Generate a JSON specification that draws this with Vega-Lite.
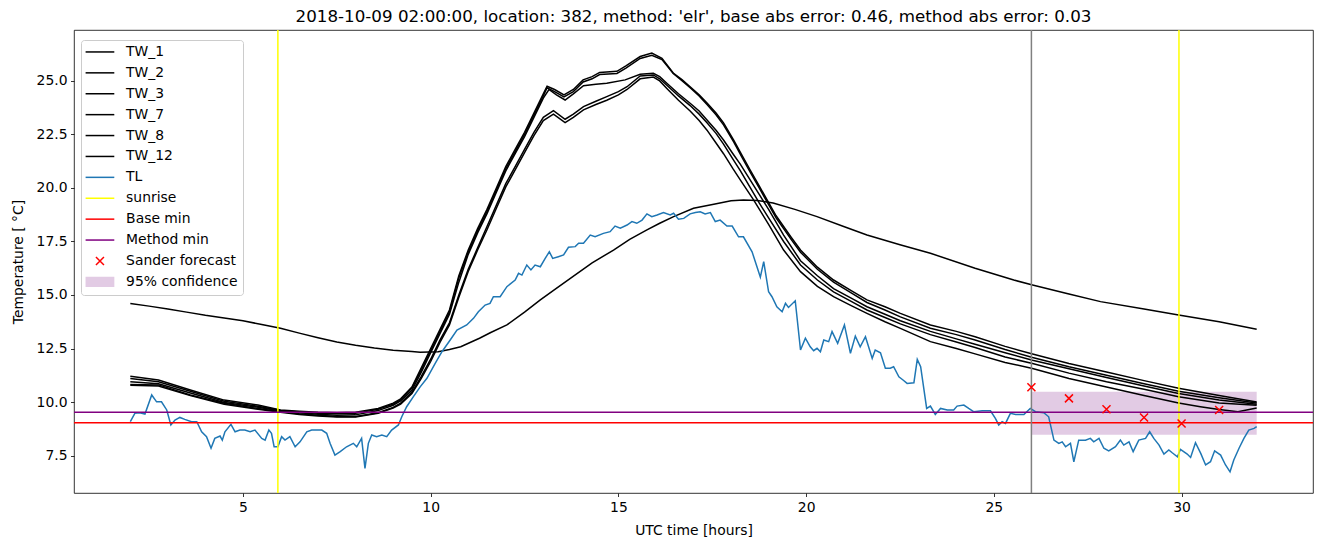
{
"$schema": "https://vega.github.io/schema/vega-lite/v6.json",
"width": 1239, "height": 463,
"autosize": "none",
"padding": {"left": 74, "top": 30, "right": 11, "bottom": 54},
"background": "white",
"title": {"text": "2018-10-09 02:00:00, location: 382, method: 'elr', base abs error: 0.46, method abs error: 0.03", "font": "DejaVu Sans", "fontSize": 16.7, "fontWeight": "normal", "color": "black", "anchor": "middle", "offset": 4},
"config": {
  "view": {"stroke": "black", "strokeWidth": 0.8},
  "font": "DejaVu Sans",
  "axis": {"domain": false, "grid": false, "tickColor": "black", "tickSize": 3.5, "tickWidth": 0.8, "labelFont": "DejaVu Sans", "labelFontSize": 13.9, "labelColor": "black", "labelPadding": 3.5, "titleFont": "DejaVu Sans", "titleFontSize": 13.9, "titleColor": "black", "titleFontWeight": "normal", "labelFlush": false, "labelOverlap": false},
  "axisX": {"titlePadding": 10},
  "axisY": {"titlePadding": 11}
},
"datasets": {
  "conf": [{"series": "95% confidence", "x": 26.0, "x2": 32.0, "y": 8.47, "y2": 10.48}],
  "vr": [{"series": "sunrise", "x": 5.93}, {"series": "sunrise", "x": 29.93}],
  "gray": [{"x": 26.0}],
  "hr": [{"series": "Base min", "y": 9.03}, {"series": "Method min", "y": 9.52}],
  "sander": [{"series": "Sander forecast", "x": 26, "y": 10.69}, {"series": "Sander forecast", "x": 27, "y": 10.17}, {"series": "Sander forecast", "x": 28, "y": 9.66}, {"series": "Sander forecast", "x": 29, "y": 9.28}, {"series": "Sander forecast", "x": 30, "y": 9.0}, {"series": "Sander forecast", "x": 31, "y": 9.63}],
  "lines": [
{"series":"TW_1","x":2,"y":11.2},{"series":"TW_1","x":2.75,"y":11.03},{"series":"TW_1","x":3.6,"y":10.56},{"series":"TW_1","x":4.5,"y":10.09},{"series":"TW_1","x":5.4,"y":9.86},{"series":"TW_1","x":6,"y":9.63},{"series":"TW_1","x":6.5,"y":9.57},{"series":"TW_1","x":7,"y":9.52},{"series":"TW_1","x":7.5,"y":9.5},{"series":"TW_1","x":8,"y":9.52},{"series":"TW_1","x":8.6,"y":9.7},{"series":"TW_1","x":9,"y":9.95},{"series":"TW_1","x":9.2,"y":10.15},{"series":"TW_1","x":9.5,"y":10.7},{"series":"TW_1","x":9.75,"y":11.6},{"series":"TW_1","x":10,"y":12.5},{"series":"TW_1","x":10.25,"y":13.4},{"series":"TW_1","x":10.5,"y":14.3},{"series":"TW_1","x":10.75,"y":15.9},{"series":"TW_1","x":11,"y":17.1},{"series":"TW_1","x":11.25,"y":18.1},{"series":"TW_1","x":11.5,"y":19.0},{"series":"TW_1","x":11.75,"y":20.0},{"series":"TW_1","x":12,"y":21.0},{"series":"TW_1","x":12.25,"y":21.8},{"series":"TW_1","x":12.5,"y":22.6},{"series":"TW_1","x":12.75,"y":23.5},{"series":"TW_1","x":13,"y":24.4},{"series":"TW_1","x":13.1,"y":24.75},{"series":"TW_1","x":13.3,"y":24.6},{"series":"TW_1","x":13.55,"y":24.35},{"series":"TW_1","x":13.8,"y":24.6},{"series":"TW_1","x":14.06,"y":25.05},{"series":"TW_1","x":14.3,"y":25.2},{"series":"TW_1","x":14.5,"y":25.4},{"series":"TW_1","x":14.96,"y":25.45},{"series":"TW_1","x":15.2,"y":25.7},{"series":"TW_1","x":15.58,"y":26.14},{"series":"TW_1","x":15.89,"y":26.3},{"series":"TW_1","x":16.16,"y":26.06},{"series":"TW_1","x":16.46,"y":25.37},{"series":"TW_1","x":16.7,"y":25.05},{"series":"TW_1","x":16.91,"y":24.73},{"series":"TW_1","x":17.15,"y":24.35},{"series":"TW_1","x":17.36,"y":23.97},{"series":"TW_1","x":17.6,"y":23.5},{"series":"TW_1","x":17.8,"y":23.04},{"series":"TW_1","x":18.07,"y":22.24},{"series":"TW_1","x":18.3,"y":21.5},{"series":"TW_1","x":18.51,"y":20.84},{"series":"TW_1","x":18.75,"y":20.1},{"series":"TW_1","x":18.96,"y":19.44},{"series":"TW_1","x":19.2,"y":18.7},{"series":"TW_1","x":19.4,"y":18.2},{"series":"TW_1","x":19.6,"y":17.7},{"series":"TW_1","x":19.85,"y":17.1},{"series":"TW_1","x":20.3,"y":16.3},{"series":"TW_1","x":20.73,"y":15.7},{"series":"TW_1","x":21.2,"y":15.2},{"series":"TW_1","x":21.62,"y":14.77},{"series":"TW_1","x":22.1,"y":14.45},{"series":"TW_1","x":22.51,"y":14.14},{"series":"TW_1","x":23.31,"y":13.6},{"series":"TW_1","x":24,"y":13.3},{"series":"TW_1","x":24.5,"y":13.05},{"series":"TW_1","x":25.3,"y":12.6},{"series":"TW_1","x":26.03,"y":12.24},{"series":"TW_1","x":27,"y":11.8},{"series":"TW_1","x":28,"y":11.4},{"series":"TW_1","x":29,"y":11.0},{"series":"TW_1","x":29.92,"y":10.64},{"series":"TW_1","x":31,"y":10.3},{"series":"TW_1","x":32,"y":10.0},
{"series":"TW_2","x":2,"y":11.1},{"series":"TW_2","x":2.75,"y":10.95},{"series":"TW_2","x":3.6,"y":10.5},{"series":"TW_2","x":4.5,"y":10.04},{"series":"TW_2","x":5.4,"y":9.8},{"series":"TW_2","x":6,"y":9.6},{"series":"TW_2","x":6.5,"y":9.53},{"series":"TW_2","x":7,"y":9.48},{"series":"TW_2","x":7.5,"y":9.45},{"series":"TW_2","x":8,"y":9.47},{"series":"TW_2","x":8.6,"y":9.66},{"series":"TW_2","x":9,"y":9.9},{"series":"TW_2","x":9.2,"y":10.1},{"series":"TW_2","x":9.5,"y":10.65},{"series":"TW_2","x":9.75,"y":11.5},{"series":"TW_2","x":10,"y":12.4},{"series":"TW_2","x":10.25,"y":13.3},{"series":"TW_2","x":10.5,"y":14.2},{"series":"TW_2","x":10.75,"y":15.8},{"series":"TW_2","x":11,"y":17.0},{"series":"TW_2","x":11.25,"y":18.0},{"series":"TW_2","x":11.5,"y":18.9},{"series":"TW_2","x":11.75,"y":19.9},{"series":"TW_2","x":12,"y":20.9},{"series":"TW_2","x":12.25,"y":21.7},{"series":"TW_2","x":12.5,"y":22.5},{"series":"TW_2","x":12.75,"y":23.4},{"series":"TW_2","x":13,"y":24.3},{"series":"TW_2","x":13.1,"y":24.68},{"series":"TW_2","x":13.3,"y":24.5},{"series":"TW_2","x":13.55,"y":24.25},{"series":"TW_2","x":13.8,"y":24.5},{"series":"TW_2","x":14.06,"y":24.95},{"series":"TW_2","x":14.3,"y":25.1},{"series":"TW_2","x":14.5,"y":25.3},{"series":"TW_2","x":14.96,"y":25.35},{"series":"TW_2","x":15.2,"y":25.6},{"series":"TW_2","x":15.58,"y":26.05},{"series":"TW_2","x":15.89,"y":26.2},{"series":"TW_2","x":16.16,"y":26.0},{"series":"TW_2","x":16.46,"y":25.35},{"series":"TW_2","x":16.7,"y":25.0},{"series":"TW_2","x":16.91,"y":24.68},{"series":"TW_2","x":17.15,"y":24.3},{"series":"TW_2","x":17.36,"y":23.9},{"series":"TW_2","x":17.6,"y":23.42},{"series":"TW_2","x":17.8,"y":22.95},{"series":"TW_2","x":18.07,"y":22.15},{"series":"TW_2","x":18.3,"y":21.4},{"series":"TW_2","x":18.51,"y":20.74},{"series":"TW_2","x":18.75,"y":20.0},{"series":"TW_2","x":18.96,"y":19.35},{"series":"TW_2","x":19.2,"y":18.6},{"series":"TW_2","x":19.4,"y":18.1},{"series":"TW_2","x":19.6,"y":17.6},{"series":"TW_2","x":19.85,"y":17.0},{"series":"TW_2","x":20.3,"y":16.2},{"series":"TW_2","x":20.73,"y":15.6},{"series":"TW_2","x":21.2,"y":15.1},{"series":"TW_2","x":21.62,"y":14.65},{"series":"TW_2","x":22.1,"y":14.3},{"series":"TW_2","x":22.51,"y":13.98},{"series":"TW_2","x":23.31,"y":13.45},{"series":"TW_2","x":24,"y":13.15},{"series":"TW_2","x":24.5,"y":12.9},{"series":"TW_2","x":25.3,"y":12.45},{"series":"TW_2","x":26.03,"y":12.08},{"series":"TW_2","x":27,"y":11.65},{"series":"TW_2","x":28,"y":11.25},{"series":"TW_2","x":29,"y":10.85},{"series":"TW_2","x":29.92,"y":10.5},{"series":"TW_2","x":31,"y":10.2},{"series":"TW_2","x":32,"y":9.95},
{"series":"TW_3","x":2,"y":10.95},{"series":"TW_3","x":2.75,"y":10.85},{"series":"TW_3","x":3.6,"y":10.42},{"series":"TW_3","x":4.5,"y":9.98},{"series":"TW_3","x":5.4,"y":9.76},{"series":"TW_3","x":6,"y":9.58},{"series":"TW_3","x":6.5,"y":9.5},{"series":"TW_3","x":7,"y":9.43},{"series":"TW_3","x":7.5,"y":9.38},{"series":"TW_3","x":8,"y":9.4},{"series":"TW_3","x":8.6,"y":9.6},{"series":"TW_3","x":9,"y":9.85},{"series":"TW_3","x":9.2,"y":10.05},{"series":"TW_3","x":9.5,"y":10.55},{"series":"TW_3","x":9.75,"y":11.4},{"series":"TW_3","x":10,"y":12.3},{"series":"TW_3","x":10.25,"y":13.2},{"series":"TW_3","x":10.5,"y":14.1},{"series":"TW_3","x":10.75,"y":15.6},{"series":"TW_3","x":11,"y":16.9},{"series":"TW_3","x":11.25,"y":17.9},{"series":"TW_3","x":11.5,"y":18.8},{"series":"TW_3","x":11.75,"y":19.8},{"series":"TW_3","x":12,"y":20.8},{"series":"TW_3","x":12.25,"y":21.6},{"series":"TW_3","x":12.5,"y":22.4},{"series":"TW_3","x":12.75,"y":23.3},{"series":"TW_3","x":13,"y":24.2},{"series":"TW_3","x":13.15,"y":24.6},{"series":"TW_3","x":13.35,"y":24.35},{"series":"TW_3","x":13.58,"y":24.11},{"series":"TW_3","x":13.8,"y":24.4},{"series":"TW_3","x":14.07,"y":24.78},{"series":"TW_3","x":14.4,"y":24.85},{"series":"TW_3","x":14.69,"y":24.89},{"series":"TW_3","x":15.18,"y":25.05},{"series":"TW_3","x":15.58,"y":25.31},{"series":"TW_3","x":15.93,"y":25.36},{"series":"TW_3","x":16.1,"y":25.2},{"series":"TW_3","x":16.29,"y":24.89},{"series":"TW_3","x":16.6,"y":24.4},{"series":"TW_3","x":16.91,"y":23.96},{"series":"TW_3","x":17.15,"y":23.6},{"series":"TW_3","x":17.36,"y":23.18},{"series":"TW_3","x":17.6,"y":22.7},{"series":"TW_3","x":17.8,"y":22.24},{"series":"TW_3","x":18.05,"y":21.6},{"series":"TW_3","x":18.25,"y":21.1},{"series":"TW_3","x":18.5,"y":20.4},{"series":"TW_3","x":18.75,"y":19.7},{"series":"TW_3","x":19.0,"y":19.0},{"series":"TW_3","x":19.4,"y":17.8},{"series":"TW_3","x":19.85,"y":16.6},{"series":"TW_3","x":20.3,"y":15.9},{"series":"TW_3","x":20.73,"y":15.3},{"series":"TW_3","x":21.2,"y":14.85},{"series":"TW_3","x":21.62,"y":14.45},{"series":"TW_3","x":22.1,"y":14.1},{"series":"TW_3","x":22.51,"y":13.8},{"series":"TW_3","x":23.31,"y":13.3},{"series":"TW_3","x":24,"y":12.95},{"series":"TW_3","x":24.5,"y":12.7},{"series":"TW_3","x":25.3,"y":12.3},{"series":"TW_3","x":26.03,"y":11.95},{"series":"TW_3","x":27,"y":11.55},{"series":"TW_3","x":28,"y":11.15},{"series":"TW_3","x":29,"y":10.75},{"series":"TW_3","x":29.92,"y":10.4},{"series":"TW_3","x":31,"y":10.1},{"series":"TW_3","x":32,"y":9.9},
{"series":"TW_7","x":2,"y":10.82},{"series":"TW_7","x":2.75,"y":10.8},{"series":"TW_7","x":3.6,"y":10.33},{"series":"TW_7","x":4.5,"y":9.94},{"series":"TW_7","x":5.4,"y":9.7},{"series":"TW_7","x":6,"y":9.55},{"series":"TW_7","x":6.5,"y":9.45},{"series":"TW_7","x":7,"y":9.38},{"series":"TW_7","x":7.5,"y":9.32},{"series":"TW_7","x":8,"y":9.32},{"series":"TW_7","x":8.6,"y":9.5},{"series":"TW_7","x":9,"y":9.75},{"series":"TW_7","x":9.2,"y":9.95},{"series":"TW_7","x":9.5,"y":10.45},{"series":"TW_7","x":9.75,"y":11.2},{"series":"TW_7","x":10,"y":12.0},{"series":"TW_7","x":10.25,"y":12.9},{"series":"TW_7","x":10.5,"y":13.7},{"series":"TW_7","x":10.75,"y":15.0},{"series":"TW_7","x":11,"y":16.2},{"series":"TW_7","x":11.25,"y":17.2},{"series":"TW_7","x":11.5,"y":18.2},{"series":"TW_7","x":11.75,"y":19.2},{"series":"TW_7","x":12,"y":20.2},{"series":"TW_7","x":12.25,"y":21.0},{"series":"TW_7","x":12.5,"y":21.8},{"series":"TW_7","x":12.75,"y":22.6},{"series":"TW_7","x":13,"y":23.3},{"series":"TW_7","x":13.27,"y":23.61},{"series":"TW_7","x":13.58,"y":23.21},{"series":"TW_7","x":13.8,"y":23.45},{"series":"TW_7","x":14.07,"y":23.8},{"series":"TW_7","x":14.4,"y":24.05},{"series":"TW_7","x":14.69,"y":24.27},{"series":"TW_7","x":15.0,"y":24.5},{"series":"TW_7","x":15.23,"y":24.73},{"series":"TW_7","x":15.58,"y":25.23},{"series":"TW_7","x":15.93,"y":25.28},{"series":"TW_7","x":16.1,"y":25.1},{"series":"TW_7","x":16.29,"y":24.8},{"series":"TW_7","x":16.6,"y":24.3},{"series":"TW_7","x":16.91,"y":23.85},{"series":"TW_7","x":17.15,"y":23.45},{"series":"TW_7","x":17.36,"y":23.05},{"series":"TW_7","x":17.6,"y":22.55},{"series":"TW_7","x":17.8,"y":22.05},{"series":"TW_7","x":18.05,"y":21.35},{"series":"TW_7","x":18.25,"y":20.8},{"series":"TW_7","x":18.5,"y":20.05},{"series":"TW_7","x":18.75,"y":19.3},{"series":"TW_7","x":19.0,"y":18.6},{"series":"TW_7","x":19.4,"y":17.5},{"series":"TW_7","x":19.85,"y":16.4},{"series":"TW_7","x":20.3,"y":15.7},{"series":"TW_7","x":20.73,"y":15.15},{"series":"TW_7","x":21.2,"y":14.7},{"series":"TW_7","x":21.62,"y":14.3},{"series":"TW_7","x":22.1,"y":13.95},{"series":"TW_7","x":22.51,"y":13.65},{"series":"TW_7","x":23.31,"y":13.15},{"series":"TW_7","x":24,"y":12.8},{"series":"TW_7","x":24.5,"y":12.55},{"series":"TW_7","x":25.3,"y":12.1},{"series":"TW_7","x":26.03,"y":11.8},{"series":"TW_7","x":27,"y":11.35},{"series":"TW_7","x":28,"y":10.95},{"series":"TW_7","x":29,"y":10.6},{"series":"TW_7","x":29.92,"y":10.25},{"series":"TW_7","x":31,"y":9.95},{"series":"TW_7","x":32,"y":9.85},
{"series":"TW_8","x":2,"y":10.78},{"series":"TW_8","x":2.75,"y":10.75},{"series":"TW_8","x":3.6,"y":10.3},{"series":"TW_8","x":4.5,"y":9.9},{"series":"TW_8","x":5.4,"y":9.66},{"series":"TW_8","x":6,"y":9.52},{"series":"TW_8","x":6.5,"y":9.42},{"series":"TW_8","x":7,"y":9.35},{"series":"TW_8","x":7.5,"y":9.3},{"series":"TW_8","x":8,"y":9.3},{"series":"TW_8","x":8.6,"y":9.48},{"series":"TW_8","x":9,"y":9.72},{"series":"TW_8","x":9.2,"y":9.9},{"series":"TW_8","x":9.5,"y":10.4},{"series":"TW_8","x":9.75,"y":11.1},{"series":"TW_8","x":10,"y":11.9},{"series":"TW_8","x":10.25,"y":12.8},{"series":"TW_8","x":10.5,"y":13.6},{"series":"TW_8","x":10.75,"y":14.9},{"series":"TW_8","x":11,"y":16.1},{"series":"TW_8","x":11.25,"y":17.1},{"series":"TW_8","x":11.5,"y":18.05},{"series":"TW_8","x":11.75,"y":19.05},{"series":"TW_8","x":12,"y":20.05},{"series":"TW_8","x":12.25,"y":20.85},{"series":"TW_8","x":12.5,"y":21.65},{"series":"TW_8","x":12.75,"y":22.45},{"series":"TW_8","x":13,"y":23.15},{"series":"TW_8","x":13.27,"y":23.45},{"series":"TW_8","x":13.58,"y":23.05},{"series":"TW_8","x":13.8,"y":23.3},{"series":"TW_8","x":14.07,"y":23.65},{"series":"TW_8","x":14.4,"y":23.9},{"series":"TW_8","x":14.69,"y":24.1},{"series":"TW_8","x":15.0,"y":24.35},{"series":"TW_8","x":15.23,"y":24.6},{"series":"TW_8","x":15.58,"y":25.1},{"series":"TW_8","x":15.93,"y":25.18},{"series":"TW_8","x":16.1,"y":25.0},{"series":"TW_8","x":16.29,"y":24.65},{"series":"TW_8","x":16.6,"y":24.1},{"series":"TW_8","x":16.91,"y":23.6},{"series":"TW_8","x":17.15,"y":23.15},{"series":"TW_8","x":17.36,"y":22.7},{"series":"TW_8","x":17.6,"y":22.1},{"series":"TW_8","x":17.8,"y":21.6},{"series":"TW_8","x":18.05,"y":20.9},{"series":"TW_8","x":18.25,"y":20.37},{"series":"TW_8","x":18.6,"y":19.44},{"series":"TW_8","x":19.0,"y":18.3},{"series":"TW_8","x":19.4,"y":17.1},{"series":"TW_8","x":19.85,"y":16.09},{"series":"TW_8","x":20.3,"y":15.4},{"series":"TW_8","x":20.73,"y":14.92},{"series":"TW_8","x":21.2,"y":14.5},{"series":"TW_8","x":21.62,"y":14.14},{"series":"TW_8","x":22.1,"y":13.75},{"series":"TW_8","x":22.51,"y":13.44},{"series":"TW_8","x":23.31,"y":12.82},{"series":"TW_8","x":24,"y":12.5},{"series":"TW_8","x":24.5,"y":12.25},{"series":"TW_8","x":25.3,"y":11.85},{"series":"TW_8","x":26.03,"y":11.57},{"series":"TW_8","x":27,"y":11.1},{"series":"TW_8","x":28,"y":10.7},{"series":"TW_8","x":29,"y":10.3},{"series":"TW_8","x":29.92,"y":9.95},{"series":"TW_8","x":30.5,"y":9.78},{"series":"TW_8","x":31.0,"y":9.65},{"series":"TW_8","x":31.5,"y":9.55},{"series":"TW_8","x":32,"y":9.72},
{"series":"TW_12","x":2,"y":14.6},{"series":"TW_12","x":2.5,"y":14.48},{"series":"TW_12","x":3,"y":14.35},{"series":"TW_12","x":3.5,"y":14.2},{"series":"TW_12","x":4,"y":14.05},{"series":"TW_12","x":4.5,"y":13.93},{"series":"TW_12","x":5,"y":13.8},{"series":"TW_12","x":5.5,"y":13.62},{"series":"TW_12","x":6,"y":13.45},{"series":"TW_12","x":6.5,"y":13.22},{"series":"TW_12","x":7,"y":13.0},{"series":"TW_12","x":7.5,"y":12.8},{"series":"TW_12","x":8,"y":12.65},{"series":"TW_12","x":8.5,"y":12.52},{"series":"TW_12","x":9,"y":12.42},{"series":"TW_12","x":9.5,"y":12.36},{"series":"TW_12","x":9.72,"y":12.32},{"series":"TW_12","x":10.2,"y":12.35},{"series":"TW_12","x":10.5,"y":12.45},{"series":"TW_12","x":10.8,"y":12.58},{"series":"TW_12","x":11.3,"y":12.98},{"series":"TW_12","x":11.6,"y":13.25},{"series":"TW_12","x":12.03,"y":13.6},{"series":"TW_12","x":12.5,"y":14.2},{"series":"TW_12","x":12.92,"y":14.77},{"series":"TW_12","x":13.3,"y":15.25},{"series":"TW_12","x":13.72,"y":15.78},{"series":"TW_12","x":14.3,"y":16.5},{"series":"TW_12","x":14.87,"y":17.1},{"series":"TW_12","x":15.3,"y":17.6},{"series":"TW_12","x":15.76,"y":18.04},{"series":"TW_12","x":16.1,"y":18.35},{"series":"TW_12","x":16.47,"y":18.66},{"series":"TW_12","x":17.0,"y":19.05},{"series":"TW_12","x":17.54,"y":19.24},{"series":"TW_12","x":18,"y":19.4},{"series":"TW_12","x":18.33,"y":19.44},{"series":"TW_12","x":18.7,"y":19.42},{"series":"TW_12","x":19.12,"y":19.3},{"series":"TW_12","x":19.7,"y":19.0},{"series":"TW_12","x":20.29,"y":18.66},{"series":"TW_12","x":21,"y":18.2},{"series":"TW_12","x":21.62,"y":17.8},{"series":"TW_12","x":22.5,"y":17.35},{"series":"TW_12","x":23.31,"y":16.95},{"series":"TW_12","x":24.5,"y":16.25},{"series":"TW_12","x":25.53,"y":15.7},{"series":"TW_12","x":26.03,"y":15.47},{"series":"TW_12","x":27,"y":15.05},{"series":"TW_12","x":27.84,"y":14.69},{"series":"TW_12","x":29,"y":14.35},{"series":"TW_12","x":29.92,"y":14.07},{"series":"TW_12","x":31,"y":13.75},{"series":"TW_12","x":32,"y":13.4},
{"series":"TL","x":2.0,"y":9.08},{"series":"TL","x":2.12,"y":9.47},{"series":"TL","x":2.25,"y":9.5},{"series":"TL","x":2.39,"y":9.44},{"series":"TL","x":2.57,"y":10.33},{"series":"TL","x":2.7,"y":10.01},{"series":"TL","x":2.83,"y":10.01},{"series":"TL","x":2.97,"y":9.63},{"series":"TL","x":3.08,"y":8.93},{"series":"TL","x":3.19,"y":9.16},{"series":"TL","x":3.32,"y":9.28},{"series":"TL","x":3.45,"y":9.19},{"series":"TL","x":3.63,"y":9.08},{"series":"TL","x":3.77,"y":9.08},{"series":"TL","x":3.9,"y":8.61},{"series":"TL","x":4.03,"y":8.38},{"series":"TL","x":4.15,"y":7.84},{"series":"TL","x":4.25,"y":8.3},{"series":"TL","x":4.39,"y":8.41},{"series":"TL","x":4.45,"y":8.22},{"series":"TL","x":4.52,"y":8.61},{"series":"TL","x":4.68,"y":8.96},{"series":"TL","x":4.79,"y":8.61},{"series":"TL","x":4.92,"y":8.69},{"series":"TL","x":5.05,"y":8.69},{"series":"TL","x":5.19,"y":8.61},{"series":"TL","x":5.32,"y":8.69},{"series":"TL","x":5.5,"y":8.3},{"series":"TL","x":5.59,"y":8.22},{"series":"TL","x":5.69,"y":8.69},{"series":"TL","x":5.76,"y":8.54},{"series":"TL","x":5.83,"y":7.91},{"series":"TL","x":5.93,"y":7.91},{"series":"TL","x":6.03,"y":8.38},{"series":"TL","x":6.12,"y":8.22},{"series":"TL","x":6.25,"y":8.38},{"series":"TL","x":6.39,"y":7.91},{"series":"TL","x":6.52,"y":8.14},{"series":"TL","x":6.7,"y":8.61},{"series":"TL","x":6.83,"y":8.69},{"series":"TL","x":6.96,"y":8.69},{"series":"TL","x":7.1,"y":8.69},{"series":"TL","x":7.23,"y":8.54},{"series":"TL","x":7.32,"y":8.07},{"series":"TL","x":7.45,"y":7.52},{"series":"TL","x":7.59,"y":7.68},{"series":"TL","x":7.76,"y":7.91},{"series":"TL","x":7.94,"y":8.07},{"series":"TL","x":8.03,"y":7.91},{"series":"TL","x":8.16,"y":8.3},{"series":"TL","x":8.25,"y":6.9},{"series":"TL","x":8.34,"y":8.07},{"series":"TL","x":8.43,"y":8.46},{"series":"TL","x":8.56,"y":8.38},{"series":"TL","x":8.7,"y":8.46},{"series":"TL","x":8.83,"y":8.38},{"series":"TL","x":8.96,"y":8.69},{"series":"TL","x":9.14,"y":8.93},{"series":"TL","x":9.23,"y":9.31},{"series":"TL","x":9.36,"y":9.78},{"series":"TL","x":9.54,"y":10.25},{"series":"TL","x":9.72,"y":10.71},{"series":"TL","x":9.9,"y":11.11},{"series":"TL","x":10.12,"y":11.81},{"series":"TL","x":10.3,"y":12.35},{"series":"TL","x":10.52,"y":12.9},{"series":"TL","x":10.7,"y":13.36},{"series":"TL","x":10.96,"y":13.6},{"series":"TL","x":11.14,"y":13.91},{"series":"TL","x":11.27,"y":14.22},{"series":"TL","x":11.45,"y":14.53},{"series":"TL","x":11.58,"y":14.61},{"series":"TL","x":11.67,"y":14.92},{"series":"TL","x":11.85,"y":14.92},{"series":"TL","x":12.03,"y":15.39},{"series":"TL","x":12.25,"y":15.7},{"series":"TL","x":12.34,"y":16.01},{"series":"TL","x":12.43,"y":15.93},{"series":"TL","x":12.56,"y":16.4},{"series":"TL","x":12.67,"y":16.17},{"series":"TL","x":12.78,"y":16.4},{"series":"TL","x":12.92,"y":16.32},{"series":"TL","x":13.05,"y":16.71},{"series":"TL","x":13.16,"y":17.02},{"series":"TL","x":13.25,"y":16.71},{"series":"TL","x":13.4,"y":16.79},{"series":"TL","x":13.54,"y":16.87},{"series":"TL","x":13.67,"y":17.23},{"series":"TL","x":13.85,"y":17.26},{"series":"TL","x":13.94,"y":17.42},{"series":"TL","x":14.07,"y":17.42},{"series":"TL","x":14.25,"y":17.8},{"series":"TL","x":14.38,"y":17.72},{"series":"TL","x":14.6,"y":17.88},{"series":"TL","x":14.78,"y":17.96},{"series":"TL","x":14.91,"y":18.22},{"series":"TL","x":15.05,"y":18.12},{"series":"TL","x":15.23,"y":18.27},{"series":"TL","x":15.36,"y":18.43},{"series":"TL","x":15.49,"y":18.35},{"series":"TL","x":15.63,"y":18.5},{"series":"TL","x":15.76,"y":18.79},{"series":"TL","x":15.89,"y":18.66},{"series":"TL","x":16.03,"y":18.74},{"series":"TL","x":16.2,"y":18.85},{"series":"TL","x":16.38,"y":18.74},{"series":"TL","x":16.47,"y":18.82},{"series":"TL","x":16.6,"y":18.54},{"series":"TL","x":16.74,"y":18.58},{"series":"TL","x":16.91,"y":18.79},{"series":"TL","x":17.05,"y":18.85},{"series":"TL","x":17.18,"y":18.89},{"series":"TL","x":17.31,"y":18.79},{"series":"TL","x":17.45,"y":18.85},{"series":"TL","x":17.58,"y":18.43},{"series":"TL","x":17.71,"y":18.5},{"series":"TL","x":17.89,"y":18.22},{"series":"TL","x":18.03,"y":18.22},{"series":"TL","x":18.2,"y":17.72},{"series":"TL","x":18.33,"y":17.72},{"series":"TL","x":18.56,"y":17.02},{"series":"TL","x":18.69,"y":16.32},{"series":"TL","x":18.78,"y":15.83},{"series":"TL","x":18.87,"y":16.56},{"series":"TL","x":19.0,"y":15.15},{"series":"TL","x":19.09,"y":14.92},{"series":"TL","x":19.22,"y":14.45},{"series":"TL","x":19.36,"y":14.22},{"series":"TL","x":19.45,"y":14.61},{"series":"TL","x":19.53,"y":14.42},{"series":"TL","x":19.71,"y":14.73},{"series":"TL","x":19.85,"y":12.43},{"series":"TL","x":19.98,"y":12.98},{"series":"TL","x":20.11,"y":12.58},{"series":"TL","x":20.2,"y":12.4},{"series":"TL","x":20.29,"y":12.51},{"series":"TL","x":20.38,"y":12.35},{"series":"TL","x":20.47,"y":12.9},{"series":"TL","x":20.6,"y":12.82},{"series":"TL","x":20.69,"y":13.29},{"series":"TL","x":20.84,"y":12.74},{"series":"TL","x":21.02,"y":13.6},{"series":"TL","x":21.18,"y":12.28},{"series":"TL","x":21.31,"y":13.08},{"series":"TL","x":21.44,"y":12.58},{"series":"TL","x":21.58,"y":13.05},{"series":"TL","x":21.76,"y":12.04},{"series":"TL","x":21.84,"y":12.43},{"series":"TL","x":21.98,"y":12.3},{"series":"TL","x":22.11,"y":11.58},{"series":"TL","x":22.24,"y":11.58},{"series":"TL","x":22.33,"y":11.65},{"series":"TL","x":22.47,"y":11.18},{"series":"TL","x":22.58,"y":11.03},{"series":"TL","x":22.69,"y":10.87},{"series":"TL","x":22.87,"y":10.9},{"series":"TL","x":22.96,"y":11.99},{"series":"TL","x":23.05,"y":11.65},{"series":"TL","x":23.21,"y":9.7},{"series":"TL","x":23.31,"y":9.81},{"series":"TL","x":23.44,"y":9.42},{"series":"TL","x":23.58,"y":9.7},{"series":"TL","x":23.76,"y":9.63},{"series":"TL","x":23.93,"y":9.63},{"series":"TL","x":24.02,"y":9.81},{"series":"TL","x":24.2,"y":9.86},{"series":"TL","x":24.33,"y":9.7},{"series":"TL","x":24.46,"y":9.55},{"series":"TL","x":24.69,"y":9.59},{"series":"TL","x":24.91,"y":9.59},{"series":"TL","x":25.04,"y":9.24},{"series":"TL","x":25.13,"y":8.93},{"series":"TL","x":25.22,"y":9.08},{"series":"TL","x":25.31,"y":9.0},{"series":"TL","x":25.44,"y":9.47},{"series":"TL","x":25.58,"y":9.42},{"series":"TL","x":25.8,"y":9.42},{"series":"TL","x":25.97,"y":9.7},{"series":"TL","x":26.11,"y":9.55},{"series":"TL","x":26.33,"y":9.5},{"series":"TL","x":26.46,"y":9.31},{"series":"TL","x":26.6,"y":8.22},{"series":"TL","x":26.73,"y":8.07},{"series":"TL","x":26.82,"y":8.14},{"series":"TL","x":26.91,"y":7.91},{"series":"TL","x":27.04,"y":8.07},{"series":"TL","x":27.13,"y":7.21},{"series":"TL","x":27.26,"y":8.22},{"series":"TL","x":27.44,"y":8.22},{"series":"TL","x":27.57,"y":8.3},{"series":"TL","x":27.66,"y":8.14},{"series":"TL","x":27.8,"y":8.3},{"series":"TL","x":27.93,"y":7.84},{"series":"TL","x":28.06,"y":7.72},{"series":"TL","x":28.24,"y":7.91},{"series":"TL","x":28.37,"y":8.22},{"series":"TL","x":28.46,"y":7.99},{"series":"TL","x":28.6,"y":8.14},{"series":"TL","x":28.71,"y":7.68},{"series":"TL","x":28.86,"y":8.22},{"series":"TL","x":29.04,"y":8.3},{"series":"TL","x":29.15,"y":8.61},{"series":"TL","x":29.26,"y":8.3},{"series":"TL","x":29.4,"y":7.99},{"series":"TL","x":29.53,"y":7.57},{"series":"TL","x":29.66,"y":7.76},{"series":"TL","x":29.75,"y":7.63},{"series":"TL","x":29.89,"y":7.44},{"series":"TL","x":29.97,"y":7.79},{"series":"TL","x":30.15,"y":7.57},{"series":"TL","x":30.24,"y":7.41},{"series":"TL","x":30.37,"y":8.1},{"series":"TL","x":30.51,"y":7.6},{"series":"TL","x":30.64,"y":7.06},{"series":"TL","x":30.77,"y":7.21},{"series":"TL","x":30.88,"y":7.72},{"series":"TL","x":31.04,"y":7.52},{"series":"TL","x":31.17,"y":7.06},{"series":"TL","x":31.29,"y":6.74},{"series":"TL","x":31.39,"y":7.29},{"series":"TL","x":31.53,"y":7.84},{"series":"TL","x":31.66,"y":8.3},{"series":"TL","x":31.79,"y":8.69},{"series":"TL","x":31.93,"y":8.77},{"series":"TL","x":32.0,"y":8.85}
  ]
},
"layer": [
  {
    "data": {"name": "conf"},
    "mark": {"type": "rect"},
    "encoding": {
      "x": {"field": "x", "type": "quantitative", "title": "UTC time [hours]", "scale": {"domain": [0.5, 33.5], "nice": false, "zero": false}, "axis": {"values": [5, 10, 15, 20, 25, 30], "format": "d"}},
      "x2": {"field": "x2"},
      "y": {"field": "y", "type": "quantitative", "title": "Temperature [ °C]", "scale": {"domain": [5.75, 27.38], "nice": false, "zero": false}, "axis": {"values": [7.5, 10, 12.5, 15, 17.5, 20, 22.5, 25], "format": ".1f"}},
      "y2": {"field": "y2"},
      "color": {"field": "series", "type": "nominal",
        "scale": {"domain": ["TW_1", "TW_2", "TW_3", "TW_7", "TW_8", "TW_12", "TL", "sunrise", "Base min", "Method min", "Sander forecast", "95% confidence"],
                  "range": ["black", "black", "black", "black", "black", "black", "#1f77b4", "#ffff00", "#ff0000", "#800080", "#ff0000", "#e2cbe4"]},
        "legend": {"orient": "none", "legendX": 7, "legendY": 10, "title": null, "fillColor": "white", "strokeColor": "#cccccc", "cornerRadius": 3, "padding": 5, "labelFont": "DejaVu Sans", "labelFontSize": 13.9, "labelColor": "black", "symbolSize": 100, "symbolStrokeWidth": 1.5, "rowPadding": 5.9, "labelOffset": 19.2, "symbolOffset": 7,
          "encode": {"symbols": {"update": {
            "shape": {"signal": "datum.value === 'Sander forecast' ? 'M-0.8,-0.8L0.8,0.8M-0.8,0.8L0.8,-0.8' : datum.value === '95% confidence' ? 'M-2.73,-0.87H2.73V0.87H-2.73Z' : 'M-2.87,0H2.87'"},
            "stroke": {"signal": "datum.value === '95% confidence' ? 'transparent' : scale('color', datum.value)"},
            "fill": {"signal": "datum.value === '95% confidence' ? scale('color', datum.value) : 'transparent'"},
            "strokeWidth": {"value": 1.5},
            "size": {"value": 100},
            "opacity": {"value": 1}
          }}}
        }
      }
    }
  },
  {
    "data": {"name": "lines"},
    "mark": {"type": "line", "strokeWidth": 1.5},
    "encoding": {
      "x": {"field": "x", "type": "quantitative", "title": "UTC time [hours]"},
      "y": {"field": "y", "type": "quantitative", "title": "Temperature [ °C]"},
      "color": {"field": "series", "type": "nominal"}
    }
  },
  {
    "data": {"name": "vr"},
    "mark": {"type": "rule", "strokeWidth": 1.5},
    "encoding": {
      "x": {"field": "x", "type": "quantitative", "title": "UTC time [hours]"},
      "color": {"field": "series", "type": "nominal"}
    }
  },
  {
    "data": {"name": "hr"},
    "mark": {"type": "rule", "strokeWidth": 1.5},
    "encoding": {
      "y": {"field": "y", "type": "quantitative", "title": "Temperature [ °C]"},
      "color": {"field": "series", "type": "nominal"}
    }
  },
  {
    "data": {"name": "gray"},
    "mark": {"type": "rule", "strokeWidth": 1.5, "color": "gray"},
    "encoding": {
      "x": {"field": "x", "type": "quantitative", "title": "UTC time [hours]"}
    }
  },
  {
    "data": {"name": "sander"},
    "mark": {"type": "point", "shape": "M-1,-1L1,1M-1,1L1,-1", "filled": false, "size": 64, "strokeWidth": 1.5, "opacity": 1},
    "encoding": {
      "x": {"field": "x", "type": "quantitative", "title": "UTC time [hours]"},
      "y": {"field": "y", "type": "quantitative", "title": "Temperature [ °C]"},
      "color": {"field": "series", "type": "nominal"}
    }
  }
]
}
